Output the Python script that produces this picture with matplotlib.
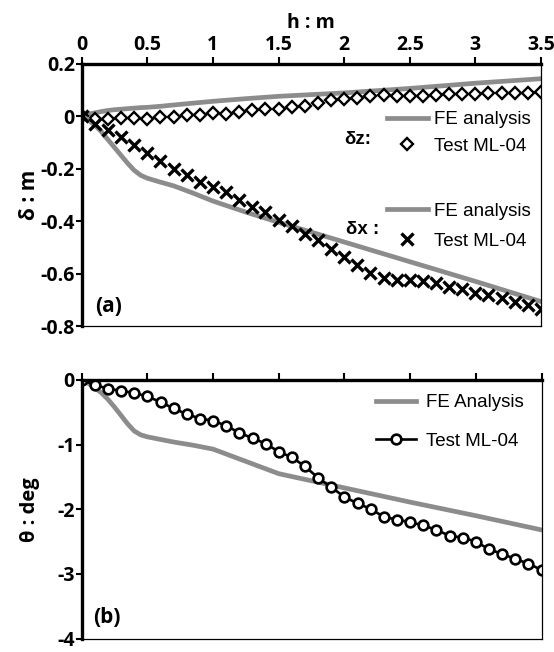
import matplotlib
matplotlib.use("Agg")
import matplotlib.pyplot as plt

plt.rcParams['axes.unicode_minus'] = False
plt.rcParams['font.family'] = ['Open Sans', 'DejaVu Sans']

# test points every 0.1 m of h
h_test = [round(0.1 * i, 1) for i in range(36)]
dz_test = [0, -0.012, -0.01, -0.009, -0.009, -0.01, -0.004, -0.004, 0.004, 0.002,
           0.011, 0.009, 0.014, 0.022, 0.027, 0.028, 0.033, 0.040, 0.050, 0.060,
           0.065, 0.069, 0.075, 0.081, 0.075, 0.075, 0.075, 0.081, 0.084, 0.084,
           0.085, 0.088, 0.088, 0.088, 0.088, 0.090]
dx_test = [0, -0.029, -0.052, -0.080, -0.109, -0.140, -0.172, -0.200, -0.225, -0.252,
           -0.271, -0.291, -0.319, -0.345, -0.367, -0.395, -0.418, -0.448, -0.472, -0.507,
           -0.538, -0.567, -0.599, -0.618, -0.624, -0.624, -0.628, -0.637, -0.650, -0.660,
           -0.673, -0.682, -0.694, -0.707, -0.720, -0.735]
th_test = [0, -0.076, -0.136, -0.167, -0.202, -0.253, -0.343, -0.44, -0.53, -0.596,
           -0.631, -0.707, -0.818, -0.9, -0.985, -1.11, -1.197, -1.338, -1.515, -1.66,
           -1.81, -1.91, -1.995, -2.12, -2.16, -2.20, -2.25, -2.32, -2.41, -2.44,
           -2.50, -2.62, -2.69, -2.77, -2.84, -2.94]

# FE analysis curves
h_fe = [0, 0.05, 0.1, 0.15, 0.2, 0.25, 0.3, 0.35, 0.4, 0.45, 0.5, 0.6, 0.7, 0.85,
        1.0, 1.25, 1.5, 2.0, 2.5, 3.0, 3.5]
dz_fe = [0, 0.007, 0.012, 0.017, 0.021, 0.024, 0.026, 0.028, 0.030, 0.032, 0.033, 0.037,
         0.042, 0.049, 0.056, 0.066, 0.075, 0.088, 0.105, 0.125, 0.142]
dx_fe = [0, -0.015, -0.035, -0.06, -0.09, -0.12, -0.15, -0.18, -0.207, -0.226, -0.237,
         -0.252, -0.266, -0.294, -0.324, -0.366, -0.405, -0.48, -0.555, -0.63, -0.707]
th_fe = [0, -0.05, -0.12, -0.2, -0.3, -0.42, -0.55, -0.68, -0.79, -0.85, -0.88, -0.92,
         -0.96, -1.01, -1.07, -1.26, -1.45, -1.67, -1.89, -2.1, -2.32]

gray = '#8c8c8c'
leg_font = {'family': 'Liberation Sans', 'size': 13.5}
tick_size = 14

fig = plt.figure(figsize=(5.54, 6.52), dpi=100)
ax1 = fig.add_axes([0.1475, 0.5, 0.829, 0.4026])
ax2 = fig.add_axes([0.1475, 0.0207, 0.830, 0.3965])


def style_axes(ax):
    ax.spines['left'].set_linewidth(2.4)
    ax.spines['top'].set_linewidth(2.4)
    ax.spines['right'].set_linewidth(0.9)
    ax.spines['bottom'].set_linewidth(0.9)
    ax.xaxis.tick_top()
    ax.tick_params(axis='x', direction='out', length=5, width=1.5, pad=1)
    ax.tick_params(axis='y', direction='out', length=4, width=1.5, pad=1)
    ax.set_xlim(0, 3.5)
    ax.set_xticks([0, 0.5, 1, 1.5, 2, 2.5, 3, 3.5])
    for lab in ax.get_xticklabels() + ax.get_yticklabels():
        lab.set_fontweight('bold')
        lab.set_fontsize(tick_size)


# (a) displacements
ax1.plot(h_fe, dz_fe, color=gray, lw=3.4, label='FE analysis')
ax1.plot(h_test, dz_test, ls='none', marker='D', ms=6.5, mfc='white', mec='black',
         mew=1.7, label='Test ML-04')
ax1.plot(h_fe, dx_fe, color=gray, lw=3.4, label='FE analysis')
ax1.plot(h_test, dx_test, ls='none', marker='x', ms=8.5, mec='black', mew=2.4,
         label='Test ML-04')
ax1.set_ylim(-0.8, 0.2)
ax1.set_yticks([-0.8, -0.6, -0.4, -0.2, 0, 0.2])
ax1.set_yticklabels(['-0.8', '-0.6', '-0.4', '-0.2', '0', '0.2'])
ax1.set_xticklabels(['0', '0.5', '1', '1.5', '2', '2.5', '3', '3.5'])
style_axes(ax1)
ax1.set_xlabel('h : m', fontsize=14, fontweight='bold', labelpad=5)
ax1.xaxis.set_label_position('top')
ax1.set_ylabel('δ : m', fontsize=15, fontweight='bold')
ax1.yaxis.set_label_coords(-0.09, 0.5)

h = ax1.get_lines()
leg_z = ax1.legend(h[:2], ['FE analysis', 'Test ML-04'], loc='upper left',
                   bbox_to_anchor=(0.664, 0.818), frameon=False, prop=leg_font,
                   borderpad=0, borderaxespad=0, handlelength=2.2,
                   handletextpad=0.3, labelspacing=0.5)
ax1.add_artist(leg_z)
ax1.legend(h[2:], ['FE analysis', 'Test ML-04'], loc='upper left',
           bbox_to_anchor=(0.664, 0.47), frameon=False, prop=leg_font,
           borderpad=0, borderaxespad=0, handlelength=2.2,
           handletextpad=0.3, labelspacing=0.7)
ax1.text(0.6, 0.709, 'δz:', transform=ax1.transAxes, ha='center', va='center',
         family='Liberation Sans', fontweight='bold', fontsize=13.5)
ax1.text(0.611, 0.366, 'δx :', transform=ax1.transAxes, ha='center', va='center',
         family='Liberation Sans', fontweight='bold', fontsize=13.5)
ax1.text(0.058, 0.076, '(a)', transform=ax1.transAxes, ha='center', va='center',
         fontweight='bold', fontsize=15)

# (b) rotation
ax2.plot(h_fe, th_fe, color=gray, lw=3.4, label='FE Analysis')
ax2.plot(h_test, th_test, color='black', lw=1.9, marker='o', ms=7, mfc='white',
         mec='black', mew=1.9, label='Test ML-04')
ax2.set_ylim(-4, 0)
ax2.set_yticks([-4, -3, -2, -1, 0])
ax2.set_yticklabels(['-4', '-3', '-2', '-1', '0'])
style_axes(ax2)
ax2.set_xticklabels([])
ax2.set_ylabel('θ : deg', fontsize=14.5, fontweight='bold')
ax2.yaxis.set_label_coords(-0.09, 0.5)
ax2.legend(loc='upper left', bbox_to_anchor=(0.641, 0.945), frameon=False,
           prop=leg_font, borderpad=0, borderaxespad=0, handlelength=2.1,
           handletextpad=0.55, labelspacing=1.15)
ax2.text(0.055, 0.08, '(b)', transform=ax2.transAxes, ha='center', va='center',
         fontweight='bold', fontsize=15)

fig.savefig('out.png', dpi=100)
